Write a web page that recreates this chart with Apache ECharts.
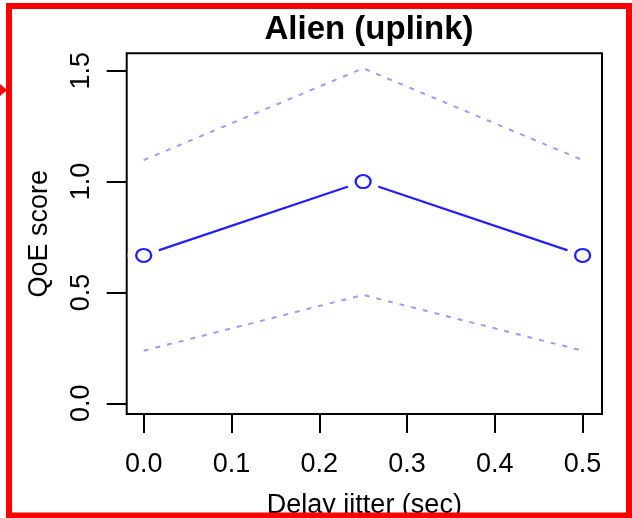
<!DOCTYPE html>
<html>
<head>
<meta charset="utf-8">
<script src="https://cdn.jsdelivr.net/npm/echarts@6/dist/echarts.min.js"></script>
<style>
  html, body { margin: 0; padding: 0; background: #ffffff; }
  #chart { width: 632px; height: 518px; }
</style>
</head>
<body>
<div id="chart"></div>
<script>
// Delay jitter settings (sec)
const jitter = [0.0, 0.25, 0.5];
// Mean QoE score and its upper / lower bands
const qoeMean  = [0.667, 1.0, 0.667];
const qoeUpper = [1.097, 1.511, 1.097];
const qoeLower = [0.237, 0.489, 0.237];
// Tick positions for both axes
const xTicks = [0.0, 0.1, 0.2, 0.3, 0.4, 0.5];
const yTicks = [0.0, 0.5, 1.0, 1.5];

const pairs = ys => jitter.map((x, i) => [x, ys[i]]);

const FONT = '"Liberation Sans", Arial, Helvetica, sans-serif';
const MAIN = '#1f1fff';
const BAND = '#9c9cff';

const chart = echarts.init(document.getElementById('chart'), null, { renderer: 'canvas' });

chart.setOption({
  animation: false,
  backgroundColor: '#ffffff',
  title: {
    text: 'Alien (uplink)',
    left: 364,
    top: 8,
    textAlign: 'center',
    textStyle: { fontFamily: FONT, fontSize: 33, fontWeight: 'bold', color: '#000000' }
  },
  grid: {
    left: 126.7, top: 53.3, right: 30, bottom: 104,
    show: true, borderColor: '#000000', borderWidth: 2,
    containLabel: false, outerBoundsMode: 'none'
  },
  xAxis: {
    type: 'value',
    min: -0.01936, max: 0.52209,
    name: 'Delay jitter (sec)',
    nameLocation: 'middle',
    nameGap: 78,
    nameTextStyle: { fontFamily: FONT, fontSize: 27, color: '#000000' },
    axisLine: { show: false, onZero: false },
    splitLine: { show: false },
    axisTick: { show: true, inside: false, length: 19, customValues: xTicks,
                lineStyle: { color: '#000000', width: 2 } },
    axisLabel: { customValues: xTicks, margin: 37,
                 fontFamily: FONT, fontSize: 27, color: '#000000',
                 formatter: v => v.toFixed(1) }
  },
  yAxis: {
    type: 'value',
    min: -0.0483, max: 1.5785,
    name: 'QoE score',
    nameLocation: 'middle',
    nameRotate: 90,
    nameGap: 74,
    nameTextStyle: { fontFamily: FONT, fontSize: 27, color: '#000000' },
    axisLine: { show: false, onZero: false },
    splitLine: { show: false },
    axisTick: { show: true, inside: false, length: 20, customValues: yTicks,
                lineStyle: { color: '#000000', width: 2 } },
    axisLabel: { customValues: yTicks, margin: 32, rotate: 90,
                 align: 'center', verticalAlign: 'bottom',
                 fontFamily: FONT, fontSize: 27, color: '#000000',
                 formatter: v => v.toFixed(1) }
  },
  series: [
    {
      name: 'upper', type: 'line', data: pairs(qoeUpper),
      showSymbol: false, symbol: 'none', z: 2,
      lineStyle: { color: BAND, width: 2, type: [5, 7] }
    },
    {
      name: 'lower', type: 'line', data: pairs(qoeLower),
      showSymbol: false, symbol: 'none', z: 2,
      lineStyle: { color: BAND, width: 2, type: [5, 7] }
    },
    {
      name: 'mean', type: 'line', data: pairs(qoeMean),
      showSymbol: false, symbol: 'none', z: 3,
      lineStyle: { color: MAIN, width: 2.2 }
    },
    {
      // white halo leaves a gap between the line and each point marker
      name: 'gap', type: 'scatter', data: pairs(qoeMean),
      symbol: 'circle', symbolSize: 32, z: 4, silent: true,
      itemStyle: { color: '#ffffff', opacity: 1 }
    },
    {
      name: 'points', type: 'scatter', data: pairs(qoeMean),
      symbol: 'circle', symbolSize: [15, 13], z: 5,
      itemStyle: { color: '#ffffff', borderColor: MAIN, borderWidth: 2.2, opacity: 1 }
    }
  ],
  graphic: [
    {
      type: 'rect', z: 100, silent: true,
      shape: { x: 9, y: 6, width: 620, height: 509.5 },
      style: { fill: null, stroke: '#ff0000', lineWidth: 6 }
    },
    {
      type: 'polygon', z: 100, silent: true,
      shape: { points: [[0, 84], [7, 90], [0, 96]] },
      style: { fill: '#ff0000' }
    }
  ]
});
</script>
</body>
</html>
